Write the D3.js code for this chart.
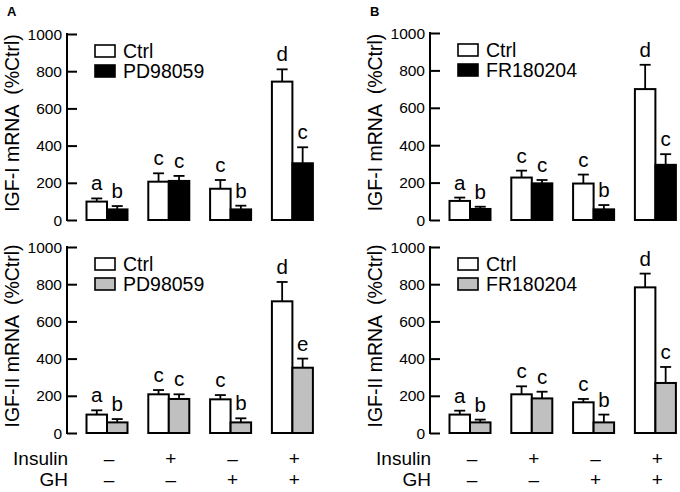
<!DOCTYPE html>
<html>
<head>
<meta charset="utf-8">
<script src="https://cdn.jsdelivr.net/npm/d3@7"></script>
<style>
  body { margin: 0; background: #fff; }
  text { font-family: "Liberation Sans", Arial, sans-serif; }
</style>
</head>
<body>
<div id="chart"></div>
<script>
// groups on the x axis
const groups = ["g1", "g2", "g3", "g4"];
const insulinRow = ["\u2013", "+", "\u2013", "+"];
const ghRow = ["\u2013", "\u2013", "+", "+"];
const yTicks = [0, 200, 400, 600, 800, 1000];

// A, IGF-I
const aIgf1Ctrl = [99, 206, 168, 744];
const aIgf1CtrlErr = [17, 45, 47, 66];
const aIgf1Drug = [57, 210, 57, 305];
const aIgf1DrugErr = [18, 27, 20, 86];
const aIgf1Letters = [["a", "b"], ["c", "c"], ["c", "b"], ["d", "c"]];

// A, IGF-II
const aIgf2Ctrl = [99, 208, 181, 708];
const aIgf2CtrlErr = [23, 23, 23, 104];
const aIgf2Drug = [57, 183, 57, 351];
const aIgf2DrugErr = [18, 25, 22, 49];
const aIgf2Letters = [["a", "b"], ["c", "c"], ["c", "b"], ["d", "e"]];

// B, IGF-I
const bIgf1Ctrl = [102, 227, 195, 700];
const bIgf1CtrlErr = [18, 37, 48, 130];
const bIgf1Drug = [59, 196, 57, 295];
const bIgf1DrugErr = [12, 18, 23, 57];
const bIgf1Letters = [["a", "b"], ["c", "c"], ["c", "b"], ["d", "c"]];

// B, IGF-II
const bIgf2Ctrl = [99, 208, 165, 783];
const bIgf2CtrlErr = [21, 43, 18, 74];
const bIgf2Drug = [57, 186, 57, 269];
const bIgf2DrugErr = [15, 36, 42, 86];
const bIgf2Letters = [["a", "b"], ["c", "c"], ["c", "b"], ["d", "c"]];

const svg = d3.select("#chart").append("svg")
    .attr("width", 680)
    .attr("height", 492);

const barW = 20.5;

function drawPanel(opt) {
    const y = d3.scaleLinear().domain([0, 1000]).range([opt.y0, opt.y1]);
    const x = d3.scalePoint().domain(groups)
        .range([opt.axisX + 40, opt.axisX + 40 + 3 * 61.8]);

    const g = svg.append("g");

    // y axis, ticks pointing inward
    const axis = g.append("g")
        .attr("transform", `translate(${opt.axisX},0)`)
        .call(d3.axisRight(y).tickValues(yTicks).tickSize(10).tickFormat(""));
    axis.select(".domain").remove();
    axis.selectAll(".tick line").attr("stroke", "#000").attr("stroke-width", 2);
    g.append("line")
        .attr("x1", opt.axisX).attr("x2", opt.axisX)
        .attr("y1", y(1000) - 1).attr("y2", y(0) + 1)
        .attr("stroke", "#000").attr("stroke-width", 2);

    g.selectAll(".ylab")
        .data(yTicks)
        .enter().append("text")
        .attr("x", opt.axisX - 5)
        .attr("y", d => y(d) + 5.5)
        .attr("text-anchor", "end")
        .style("font-size", "15.5px")
        .text(d => d);

    g.append("text")
        .attr("transform", `translate(${opt.axisX - 48},${(y(0) + y(1000)) / 2 - 4}) rotate(-90)`)
        .attr("text-anchor", "middle")
        .style("font-size", "19.5px")
        .style("white-space", "pre")
        .text(opt.title);

    const series = [
        { vals: opt.ctrl, err: opt.ctrlErr, fill: "#fff", dx: -barW, li: 0 },
        { vals: opt.drug, err: opt.drugErr, fill: opt.drugFill, dx: 0, li: 1 }
    ];

    series.forEach(s => {
        const rows = groups.map((k, i) => ({ k: k, v: s.vals[i], e: s.err[i], lab: opt.letters[i][s.li] }));
        const cx = d => x(d.k) + s.dx + barW / 2;

        g.selectAll(null).data(rows).enter().append("line")
            .attr("x1", cx).attr("x2", cx)
            .attr("y1", d => y(d.v)).attr("y2", d => y(d.v + d.e))
            .attr("stroke", "#000").attr("stroke-width", 1.8);
        g.selectAll(null).data(rows).enter().append("line")
            .attr("x1", d => cx(d) - 5.5).attr("x2", d => cx(d) + 5.5)
            .attr("y1", d => y(d.v + d.e)).attr("y2", d => y(d.v + d.e))
            .attr("stroke", "#000").attr("stroke-width", 1.8);

        g.selectAll(null).data(rows).enter().append("rect")
            .attr("x", d => x(d.k) + s.dx)
            .attr("y", d => y(d.v))
            .attr("width", barW)
            .attr("height", d => y(0) - y(d.v))
            .attr("fill", s.fill)
            .attr("stroke", "#000")
            .attr("stroke-width", 2);

        g.selectAll(null).data(rows).enter().append("text")
            .attr("x", cx)
            .attr("y", d => y(d.v + d.e) - 8)
            .attr("text-anchor", "middle")
            .style("font-size", "20.5px")
            .text(d => d.lab);
    });

    // legend
    const legend = [{ name: "Ctrl", fill: "#fff" }, { name: opt.drugName, fill: opt.drugFill }];
    legend.forEach((d, i) => {
        const ly = y(1000) + 11 + i * 20;
        g.append("rect")
            .attr("x", opt.axisX + 28).attr("y", ly)
            .attr("width", 20).attr("height", 12)
            .attr("fill", d.fill).attr("stroke", "#000").attr("stroke-width", 1.6);
        g.append("text")
            .attr("x", opt.axisX + 56).attr("y", ly + 12.5)
            .style("font-size", "19.5px")
            .text(d.name);
    });

    if (opt.treatRows) {
        [["Insulin", insulinRow, 465], ["GH", ghRow, 486]].forEach(r => {
            g.append("text")
                .attr("x", opt.axisX + 1).attr("y", r[2])
                .attr("text-anchor", "end")
                .style("font-size", "19px")
                .text(r[0]);
            g.selectAll(null).data(groups).enter().append("text")
                .attr("x", d => x(d) + 2)
                .attr("y", r[2])
                .attr("text-anchor", "middle")
                .style("font-size", "19px")
                .text((d, i) => r[1][i]);
        });
    }
}

drawPanel({ axisX: 67, y0: 220, y1: 34, title: "IGF-I mRNA  (%Ctrl)", drugName: "PD98059", drugFill: "#000",
    ctrl: aIgf1Ctrl, ctrlErr: aIgf1CtrlErr, drug: aIgf1Drug, drugErr: aIgf1DrugErr, letters: aIgf1Letters });
drawPanel({ axisX: 67, y0: 433, y1: 247, title: "IGF-II mRNA  (%Ctrl)", drugName: "PD98059", drugFill: "#c0c0c0",
    ctrl: aIgf2Ctrl, ctrlErr: aIgf2CtrlErr, drug: aIgf2Drug, drugErr: aIgf2DrugErr, letters: aIgf2Letters, treatRows: true });
drawPanel({ axisX: 430, y0: 220, y1: 33, title: "IGF-I mRNA  (%Ctrl)", drugName: "FR180204", drugFill: "#000",
    ctrl: bIgf1Ctrl, ctrlErr: bIgf1CtrlErr, drug: bIgf1Drug, drugErr: bIgf1DrugErr, letters: bIgf1Letters });
drawPanel({ axisX: 430, y0: 433, y1: 247, title: "IGF-II mRNA  (%Ctrl)", drugName: "FR180204", drugFill: "#c0c0c0",
    ctrl: bIgf2Ctrl, ctrlErr: bIgf2CtrlErr, drug: bIgf2Drug, drugErr: bIgf2DrugErr, letters: bIgf2Letters, treatRows: true });

// panel letters
svg.append("text").attr("x", 7).attr("y", 16).style("font-size", "13px").style("font-weight", "bold").text("A");
svg.append("text").attr("x", 370).attr("y", 16).style("font-size", "13px").style("font-weight", "bold").text("B");
</script>
</body>
</html>
